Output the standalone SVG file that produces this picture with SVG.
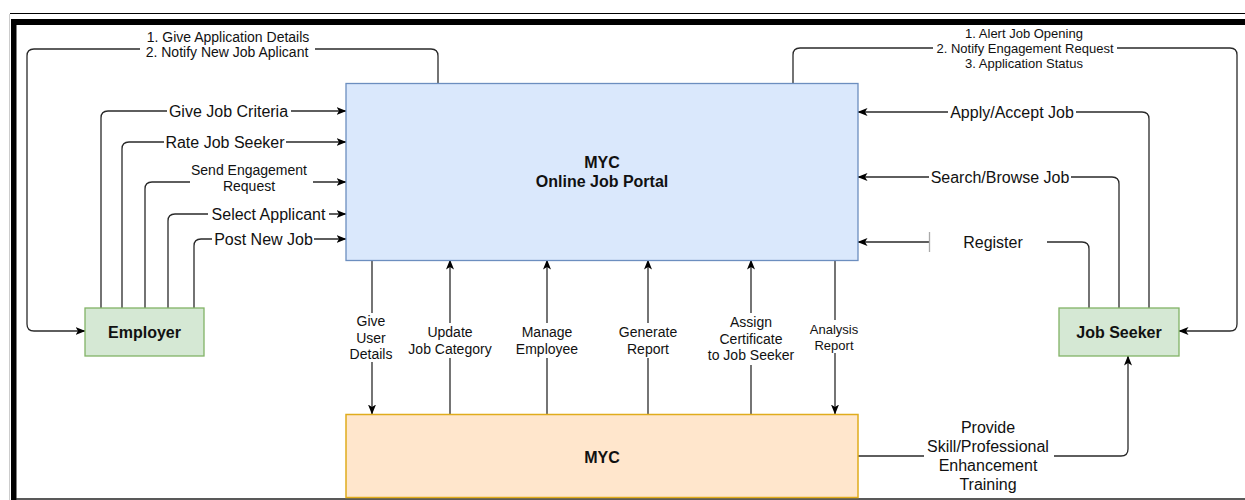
<svg xmlns="http://www.w3.org/2000/svg" width="1245" height="500" viewBox="0 0 1245 500">
  <style>
    text { font-family: "Liberation Sans", Arial, Helvetica, sans-serif; fill: #111; text-anchor: middle; dominant-baseline: central; }
    .t16 { font-size: 16px; }
    .t14 { font-size: 14px; }
    .t13 { font-size: 13px; }
    .bold { font-weight: bold; font-size: 16px; }
    .edge { fill: none; stroke: #2a2a2a; stroke-width: 1.3; }
    .arr { marker-end: url(#arrow); }
    .bg { fill: #fff; }
  </style>
  <defs>
    <marker id="arrow" viewBox="0 0 10 8" refX="9.5" refY="4" markerWidth="10" markerHeight="8" markerUnits="userSpaceOnUse" orient="auto">
      <path d="M0,0 L10,4 L0,8 L2.5,4 z" fill="#000"/>
    </marker>
  </defs>

  <rect x="0" y="0" width="1245" height="500" fill="#fff"/>

  <!-- page frame -->
  <g id="frame">
    <line x1="10" y1="13.5" x2="1245" y2="13.5" stroke="#000" stroke-width="1.2"/>
    <line x1="9.5" y1="14" x2="9.5" y2="500" stroke="#ccc" stroke-width="1"/>
    <rect x="11" y="19" width="1234" height="6" fill="#000"/>
    <rect x="11" y="19" width="5.5" height="481" fill="#000"/>
    <line x1="16" y1="499" x2="1245" y2="499" stroke="#222" stroke-width="1.6"/>
  </g>

  <!-- connectors -->
  <g id="connectors">
    <!-- portal to employer (top loop) -->
    <path class="edge arr" d="M438,83 V56 Q438,49 431,49 H34 Q27,49 27,56 V324 Q27,331 34,331 H85"/>
    <!-- employer to portal -->
    <path class="edge arr" d="M101,308 V118 Q101,111 108,111 H346"/>
    <path class="edge arr" d="M122,308 V149 Q122,142 129,142 H346"/>
    <path class="edge arr" d="M145,308 V189 Q145,182 152,182 H346"/>
    <path class="edge arr" d="M168,308 V221 Q168,214 175,214 H346"/>
    <path class="edge arr" d="M194,308 V246 Q194,239 201,239 H346"/>
    <!-- portal to job seeker (top loop) -->
    <path class="edge arr" d="M793,83 V55 Q793,48 800,48 H1230 Q1237,48 1237,55 V324 Q1237,331 1230,331 H1179"/>
    <!-- job seeker to portal -->
    <path class="edge arr" d="M1149,308 V119 Q1149,112 1142,112 H858"/>
    <path class="edge arr" d="M1119,308 V184 Q1119,177 1112,177 H858"/>
    <path class="edge arr" d="M1089,308 V249 Q1089,242 1082,242 H858"/>
    <!-- portal / MYC links -->
    <path class="edge arr" d="M372,260 V414"/>
    <path class="edge arr" d="M450,414 V260"/>
    <path class="edge arr" d="M547,414 V260"/>
    <path class="edge arr" d="M648,414 V260"/>
    <path class="edge arr" d="M751,414 V260"/>
    <path class="edge arr" d="M835,260 V414"/>
    <!-- MYC to job seeker -->
    <path class="edge arr" d="M858,456 H1121 Q1128,456 1128,449 V356"/>

    <!-- label backgrounds -->
    <rect class="bg" x="140" y="28" width="175" height="30"/>
    <rect class="bg" x="933" y="25" width="184" height="46"/>
    <rect class="bg" x="167" y="101" width="124" height="20"/>
    <rect class="bg" x="164" y="132" width="122" height="20"/>
    <rect class="bg" x="190" y="160" width="123" height="34"/>
    <rect class="bg" x="208" y="204" width="121" height="20"/>
    <rect class="bg" x="212" y="229" width="102" height="20"/>
    <rect class="bg" x="948" y="102" width="128" height="20"/>
    <rect class="bg" x="929" y="167" width="142" height="20"/>
    <rect class="bg" x="930" y="231" width="117" height="22"/>
    <line x1="929.5" y1="232" x2="929.5" y2="252" stroke="#aaa" stroke-width="1.3"/>
    <rect class="bg" x="350" y="313" width="44" height="49"/>
    <rect class="bg" x="407" y="323" width="86" height="35"/>
    <rect class="bg" x="514" y="323" width="66" height="35"/>
    <rect class="bg" x="617" y="323" width="62" height="35"/>
    <rect class="bg" x="706" y="313" width="90" height="52"/>
    <rect class="bg" x="809" y="320" width="51" height="33"/>
    <rect class="bg" x="924" y="417" width="130" height="77"/>

    <!-- labels -->
    <text class="t14"><tspan x="228" y="36.5">1. Give Application Details</tspan><tspan x="227" y="51.5">2. Notify New Job Aplicant</tspan></text>
    <text class="t13"><tspan x="1024" y="33">1. Alert Job Opening</tspan><tspan x="1025" y="48">2. Notify Engagement Request</tspan><tspan x="1024" y="63">3. Application Status</tspan></text>
    <text class="t16" x="228.5" y="111">Give Job Criteria</text>
    <text class="t16" x="225" y="142">Rate Job Seeker</text>
    <text class="t14"><tspan x="249" y="169.5">Send Engagement</tspan><tspan x="249" y="185.5">Request</tspan></text>
    <text class="t16" x="268.5" y="214">Select Applicant</text>
    <text class="t16" x="263.5" y="239">Post New Job</text>
    <text class="t16" x="1012" y="112">Apply/Accept Job</text>
    <text class="t16" x="1000" y="177">Search/Browse Job</text>
    <text class="t16" x="993" y="242">Register</text>
    <text class="t14"><tspan x="371" y="321">Give</tspan><tspan x="371" y="337.5">User</tspan><tspan x="371" y="354">Details</tspan></text>
    <text class="t14"><tspan x="450" y="332">Update</tspan><tspan x="450" y="348.5">Job Category</tspan></text>
    <text class="t14"><tspan x="547" y="332">Manage</tspan><tspan x="547" y="348.5">Employee</tspan></text>
    <text class="t14"><tspan x="648" y="332">Generate</tspan><tspan x="648" y="348.5">Report</tspan></text>
    <text class="t14"><tspan x="751" y="322">Assign</tspan><tspan x="751" y="338.5">Certificate</tspan><tspan x="751" y="355">to Job Seeker</tspan></text>
    <text class="t13"><tspan x="834" y="329">Analysis</tspan><tspan x="834" y="344.5">Report</tspan></text>
    <text class="t16"><tspan x="988" y="427">Provide</tspan><tspan x="988" y="446">Skill/Professional</tspan><tspan x="988" y="465">Enhancement</tspan><tspan x="988" y="484">Training</tspan></text>
  </g>

  <!-- nodes -->
  <g id="portal">
    <rect x="346" y="83.5" width="512" height="177" fill="#dae8fc" stroke="#6c8ebf" stroke-width="1.3"/>
    <text class="bold"><tspan x="602" y="162">MYC</tspan><tspan x="602" y="181">Online Job Portal</tspan></text>
  </g>
  <g id="myc">
    <rect x="346" y="414.5" width="512" height="83" fill="#ffe6cc" stroke="#e0ac1c" stroke-width="1.5"/>
    <text class="bold" x="602" y="457">MYC</text>
  </g>
  <g id="employer">
    <rect x="85" y="308" width="119" height="48" fill="#d5e8d4" stroke="#82b366" stroke-width="1.3"/>
    <text class="bold" x="144.5" y="332">Employer</text>
  </g>
  <g id="job-seeker">
    <rect x="1059" y="308" width="120" height="48" fill="#d5e8d4" stroke="#82b366" stroke-width="1.3"/>
    <text class="bold" x="1119" y="332">Job Seeker</text>
  </g>
</svg>
